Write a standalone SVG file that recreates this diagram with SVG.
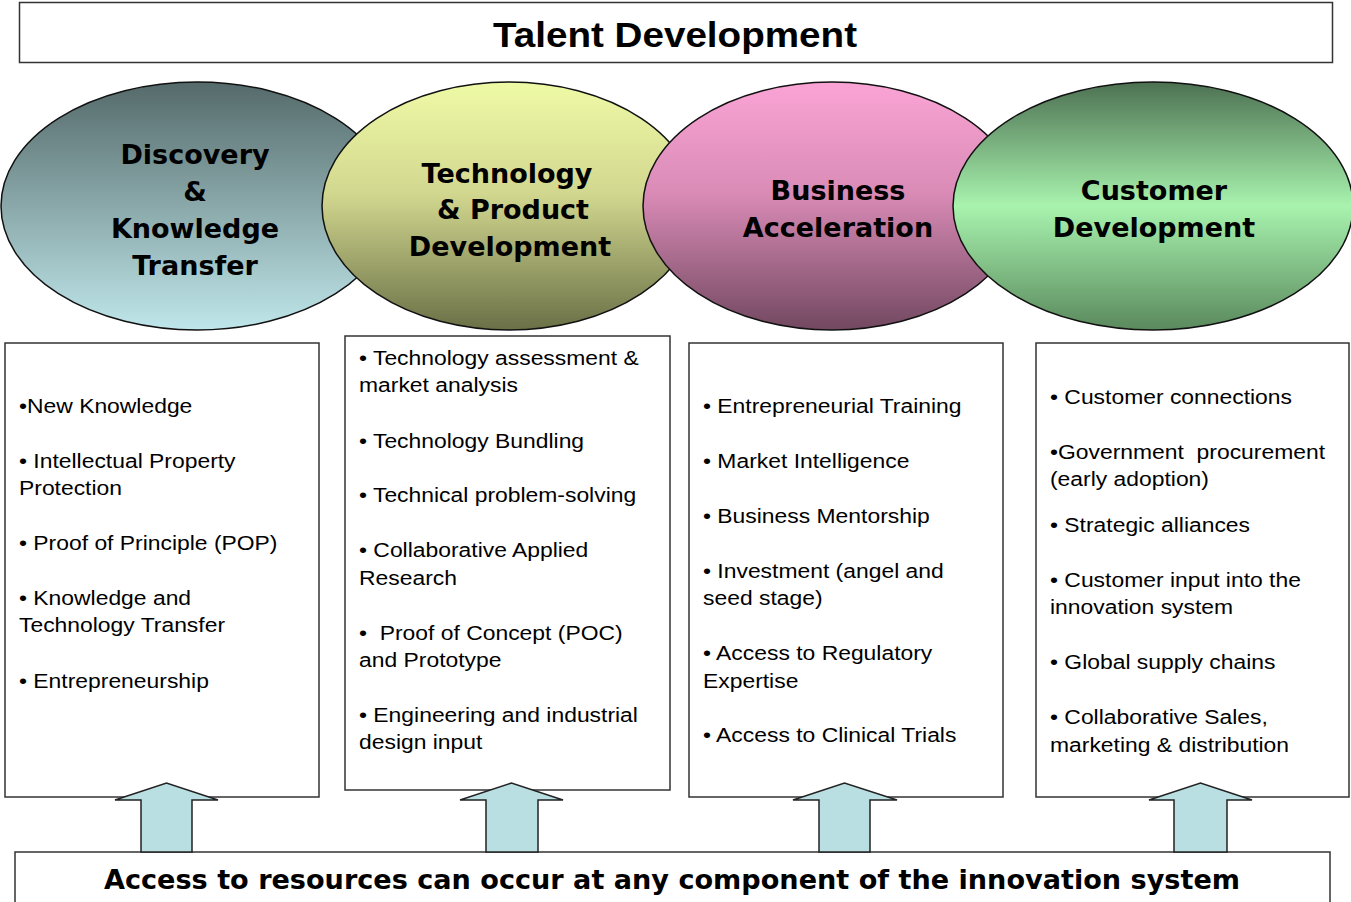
<svg xmlns="http://www.w3.org/2000/svg" width="1351" height="902" viewBox="0 0 1351 902">
<style>
.box{fill:#fff;stroke:#333;stroke-width:1.5}
.ell{stroke:#111;stroke-width:1.5}
.lbl{font-family:"DejaVu Sans",Verdana,sans-serif;font-weight:bold;font-size:27px;fill:#000;text-anchor:middle}
.body{font-family:"Liberation Sans",Arial,sans-serif;font-size:21px;fill:#000;white-space:pre}
.arrow{fill:#b9dfe2;stroke:#222;stroke-width:1.5;stroke-linejoin:miter}
</style>
<defs>
<linearGradient id="g1" x1="0" y1="0" x2="0" y2="1"><stop offset="0" stop-color="#556a6a"/><stop offset="1" stop-color="#bfe6ea"/></linearGradient>
<linearGradient id="g2" x1="0" y1="0" x2="0" y2="1"><stop offset="0" stop-color="#effaa6"/><stop offset="0.45" stop-color="#d2d78f"/><stop offset="1" stop-color="#6a7046"/></linearGradient>
<linearGradient id="g3" x1="0" y1="0" x2="0" y2="1"><stop offset="0" stop-color="#faa4d5"/><stop offset="0.45" stop-color="#d98bb6"/><stop offset="1" stop-color="#724860"/></linearGradient>
<linearGradient id="g4" x1="0" y1="0" x2="0" y2="1"><stop offset="0" stop-color="#4d7152"/><stop offset="0.5" stop-color="#a8f3ae"/><stop offset="1" stop-color="#5a895d"/></linearGradient>
</defs>

<g id="title">
<rect class="box" x="19.5" y="2.5" width="1313" height="60" stroke-width="2"/>
<text x="493" y="47" textLength="364" lengthAdjust="spacingAndGlyphs" style="font-family:'Liberation Sans',Arial,sans-serif;font-weight:bold;font-size:35px">Talent Development</text>
</g>

<g id="ellipse-discovery">
<ellipse class="ell" cx="197" cy="206" rx="196" ry="124" fill="url(#g1)"/>
<text class="lbl" x="195" y="164">Discovery</text>
<text class="lbl" x="195" y="201">&amp;</text>
<text class="lbl" x="195" y="238">Knowledge</text>
<text class="lbl" x="195" y="275">Transfer</text>
</g>
<g id="ellipse-technology">
<ellipse class="ell" cx="509" cy="206" rx="187" ry="124" fill="url(#g2)"/>
<text class="lbl" x="507" y="183">Technology</text>
<text class="lbl" x="513" y="219">&amp; Product</text>
<text class="lbl" x="510" y="256">Development</text>
</g>
<g id="ellipse-business">
<ellipse class="ell" cx="832" cy="206" rx="189" ry="124" fill="url(#g3)"/>
<text class="lbl" x="838" y="200">Business</text>
<text class="lbl" x="838" y="237">Acceleration</text>
</g>
<g id="ellipse-customer">
<ellipse class="ell" cx="1153" cy="206" rx="200" ry="124" fill="url(#g4)"/>
<text class="lbl" x="1154" y="200">Customer</text>
<text class="lbl" x="1154" y="237">Development</text>
</g>

<g id="box-discovery">
<rect class="box" x="5" y="343" width="314" height="454"/>
<g class="body" transform="translate(19,0) scale(1.09,1)">
<text y="413">•New Knowledge</text>
<text y="468">• Intellectual Property</text>
<text y="495">Protection</text>
<text y="550">• Proof of Principle (POP)</text>
<text y="605">• Knowledge and</text>
<text y="632">Technology Transfer</text>
<text y="688">• Entrepreneurship</text>
</g>
</g>
<g id="box-technology">
<rect class="box" x="345" y="336" width="325" height="454"/>
<g class="body" transform="translate(359,0) scale(1.09,1)">
<text y="365">• Technology assessment &amp;</text>
<text y="392">market analysis</text>
<text y="448">• Technology Bundling</text>
<text y="502">• Technical problem-solving</text>
<text y="557">• Collaborative Applied</text>
<text y="585">Research</text>
<text y="640">•&#160; Proof of Concept (POC)</text>
<text y="667">and Prototype</text>
<text y="722">• Engineering and industrial</text>
<text y="749">design input</text>
</g>
</g>
<g id="box-business">
<rect class="box" x="689" y="343" width="314" height="454"/>
<g class="body" transform="translate(703,0) scale(1.09,1)">
<text y="413">• Entrepreneurial Training</text>
<text y="468">• Market Intelligence</text>
<text y="523">• Business Mentorship</text>
<text y="578">• Investment (angel and</text>
<text y="605">seed stage)</text>
<text y="660">• Access to Regulatory</text>
<text y="688">Expertise</text>
<text y="742">• Access to Clinical Trials</text>
</g>
</g>
<g id="box-customer">
<rect class="box" x="1036" y="343" width="313" height="454"/>
<g class="body" transform="translate(1050,0) scale(1.09,1)">
<text y="404">• Customer connections</text>
<text y="459">•Government&#160; procurement</text>
<text y="486">(early adoption)</text>
<text y="532">• Strategic alliances</text>
<text y="587">• Customer input into the</text>
<text y="614">innovation system</text>
<text y="669">• Global supply chains</text>
<text y="724">• Collaborative Sales,</text>
<text y="752">marketing &amp; distribution</text>
</g>
</g>

<g id="resources">
<rect class="box" x="15" y="852" width="1315" height="60"/>
<text x="104" y="889" textLength="1136" lengthAdjust="spacingAndGlyphs" style="font-family:'DejaVu Sans',Verdana,sans-serif;font-weight:bold;font-size:26px">Access to resources can occur at any component of the innovation system</text>
</g>

<g id="connectors">
<path class="arrow" d="M141,852 V800 H115 L166.5,783 L218,800 H192 V852 Z"/>
<path class="arrow" d="M486,852 V800 H460 L511.5,783 L563,800 H538 V852 Z"/>
<path class="arrow" d="M819,852 V800 H793 L844.5,783 L897,800 H870 V852 Z"/>
<path class="arrow" d="M1174,852 V800 H1149 L1200.5,783 L1252,800 H1227 V852 Z"/>
</g>
</svg>
